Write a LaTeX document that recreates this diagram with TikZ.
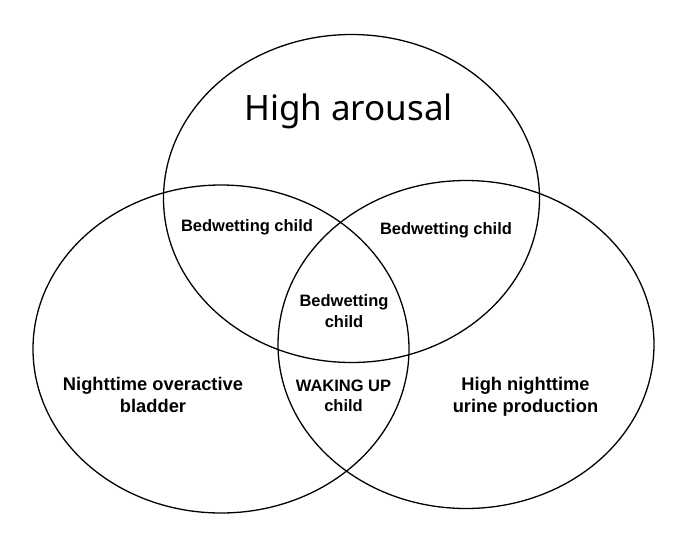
\documentclass[tikz,border=0pt]{standalone}
\usepackage{fontspec}
\setmainfont{Liberation Sans}
\newfontfamily\titlefont{Noto Sans}

\begin{document}
\begin{tikzpicture}[x=1pt,y=-1pt,
  setline/.style={line width=1.3pt},
  region/.style={font=\fontsize{16.5}{20.5}\selectfont\bfseries, align=center},
  sidelabel/.style={region, font=\fontsize{18.3}{22}\selectfont\bfseries}]
\useasboundingbox (0,0) rectangle (683,547);

% the three sets
\coordinate (arousalc) at (351.5,198.5);
\coordinate (bladderc) at (221,349);
\coordinate (urinec) at (466,344.5);
\foreach \c in {arousalc,bladderc,urinec} {
  \draw[setline] (\c) ellipse [x radius=188, y radius=164];
}

% labels
\node[anchor=base, font=\titlefont\fontsize{35}{40}\selectfont] (arousal) at (348.5,120) {High arousal};
\node[region, anchor=base] (topleft) at (247,231) {Bedwetting child};
\node[region, anchor=base] (topright) at (446,234) {Bedwetting child};
\node[region] (middle) at (344,311) {Bedwetting\\child};
\node[region] (waking) at (343.5,395.8) {WAKING UP\\child};
\node[sidelabel] (bladder) at (153,395.3) {Nighttime overactive\\bladder};
\node[sidelabel] (urine) at (525.5,397.2) {High nighttime\\urine production};
\end{tikzpicture}
\end{document}
